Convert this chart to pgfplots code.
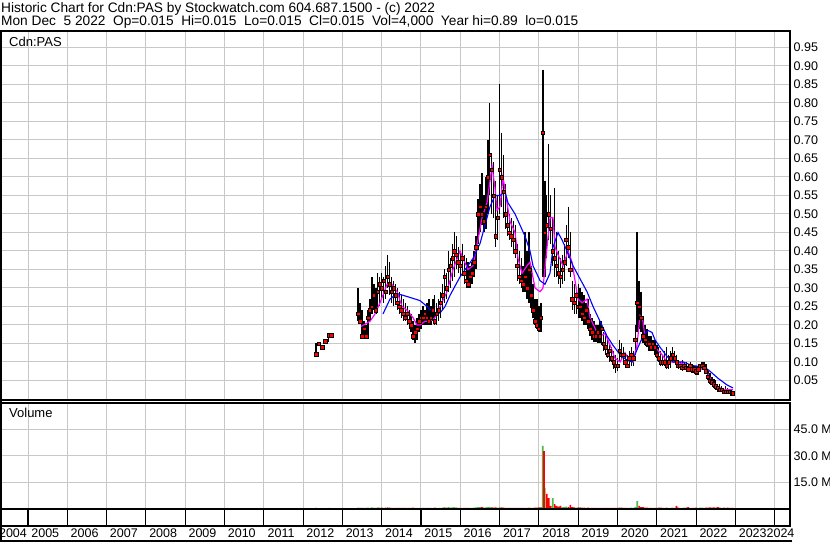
\documentclass[border=0pt]{standalone}
\usepackage{pgfplots}
\pgfplotsset{compat=1.18}
\usepackage{pgfplotstable}
\usepackage{fontspec}
\setmainfont{Liberation Sans}
\definecolor{gridc}{RGB}{200,200,200}
\definecolor{vgreen}{RGB}{76,185,76}
\definecolor{mag}{RGB}{255,0,255}
\definecolor{mablue}{RGB}{0,0,255}

\pgfplotstableread{
x hi lo cl vol up
2012.33 0.150 0.120 0.121 0.6 0
2012.40 0.150 0.150 0.150 0.5 1
2012.48 0.140 0.140 0.140 0.5 0
2012.56 0.156 0.156 0.156 0.5 1
2012.65 0.177 0.155 0.172 0.7 1
2012.72 0.172 0.172 0.172 0.5 0
2013.40 0.30 0.21 0.23 0.8 1
2013.45 0.26 0.21 0.21 0.6 0
2013.50 0.24 0.17 0.17 0.7 0
2013.55 0.21 0.17 0.19 0.6 1
2013.60 0.20 0.165 0.17 0.6 0
2013.65 0.24 0.17 0.22 0.8 1
2013.70 0.27 0.21 0.24 0.7 1
2013.75 0.33 0.23 0.25 0.9 1
2013.80 0.31 0.24 0.28 0.8 1
2013.85 0.30 0.23 0.24 0.7 0
2013.90 0.34 0.24 0.29 0.9 1
2013.95 0.33 0.25 0.31 0.8 1
2014.00 0.34 0.27 0.30 0.8 0
2014.05 0.33 0.26 0.32 0.7 1
2014.10 0.36 0.27 0.29 0.8 0
2014.15 0.39 0.30 0.33 1.0 1
2014.20 0.37 0.28 0.31 0.8 0
2014.25 0.33 0.26 0.29 0.7 0
2014.30 0.32 0.25 0.30 0.6 1
2014.35 0.31 0.26 0.28 0.6 0
2014.40 0.30 0.24 0.26 0.7 0
2014.45 0.29 0.23 0.25 0.6 0
2014.50 0.28 0.22 0.24 0.6 0
2014.55 0.27 0.21 0.23 0.7 0
2014.60 0.26 0.21 0.22 0.6 0
2014.65 0.25 0.20 0.23 0.6 1
2014.70 0.24 0.19 0.21 0.7 0
2014.75 0.23 0.18 0.20 0.7 0
2014.80 0.21 0.16 0.17 0.8 0
2014.85 0.20 0.15 0.18 0.7 1
2014.90 0.22 0.16 0.19 0.6 1
2014.95 0.23 0.18 0.21 0.7 1
2015.00 0.24 0.19 0.22 0.6 1
2015.05 0.25 0.20 0.22 0.6 0
2015.10 0.24 0.20 0.23 0.6 1
2015.15 0.26 0.20 0.22 0.7 0
2015.20 0.27 0.20 0.21 0.7 0
2015.25 0.25 0.20 0.22 0.6 1
2015.30 0.27 0.21 0.24 0.7 1
2015.35 0.28 0.20 0.21 0.8 0
2015.40 0.26 0.20 0.23 0.6 1
2015.45 0.27 0.21 0.24 0.6 1
2015.50 0.29 0.22 0.26 0.7 1
2015.55 0.31 0.24 0.28 0.8 1
2015.60 0.35 0.26 0.33 1.0 1
2015.65 0.34 0.27 0.30 0.8 0
2015.70 0.40 0.29 0.35 1.0 1
2015.75 0.38 0.30 0.36 0.8 1
2015.80 0.42 0.32 0.38 0.9 1
2015.85 0.45 0.33 0.40 1.0 1
2015.90 0.44 0.35 0.39 0.8 0
2015.95 0.41 0.34 0.37 0.7 0
2016.00 0.40 0.33 0.36 0.7 0
2016.05 0.42 0.34 0.38 0.7 1
2016.10 0.39 0.31 0.34 0.7 0
2016.15 0.38 0.30 0.32 0.6 0
2016.20 0.37 0.30 0.31 0.6 0
2016.25 0.36 0.30 0.33 0.6 1
2016.30 0.37 0.31 0.34 0.7 1
2016.35 0.40 0.33 0.37 0.8 1
2016.40 0.44 0.35 0.41 0.9 1
2016.45 0.54 0.42 0.50 1.1 1
2016.50 0.58 0.45 0.52 1.0 1
2016.55 0.61 0.47 0.50 1.0 0
2016.60 0.55 0.45 0.48 0.8 0
2016.65 0.60 0.46 0.52 0.9 1
2016.70 0.70 0.50 0.60 1.1 1
2016.75 0.80 0.55 0.66 1.2 1
2016.80 0.66 0.50 0.62 0.9 0
2016.85 0.64 0.49 0.55 0.8 0
2016.90 0.59 0.41 0.44 0.9 0
2016.95 0.55 0.43 0.49 0.8 1
2017.00 0.85 0.50 0.62 1.2 1
2017.05 0.72 0.52 0.60 0.9 0
2017.10 0.66 0.49 0.56 0.8 0
2017.15 0.58 0.46 0.50 0.7 0
2017.20 0.52 0.44 0.47 0.7 0
2017.25 0.50 0.43 0.45 0.6 0
2017.30 0.49 0.41 0.44 0.6 0
2017.35 0.48 0.40 0.43 0.6 0
2017.40 0.47 0.38 0.40 0.7 0
2017.45 0.42 0.32 0.36 0.7 0
2017.50 0.40 0.31 0.33 0.7 0
2017.55 0.38 0.30 0.32 0.6 0
2017.60 0.36 0.29 0.31 0.6 0
2017.65 0.45 0.29 0.33 0.7 1
2017.70 0.40 0.27 0.30 0.7 0
2017.75 0.45 0.26 0.35 0.8 1
2017.80 0.36 0.245 0.28 0.7 0
2017.85 0.31 0.22 0.24 0.7 0
2017.90 0.27 0.20 0.21 0.8 0
2017.95 0.27 0.19 0.20 0.8 0
2018.00 0.25 0.18 0.19 0.9 0
2018.05 0.26 0.18 0.22 1.0 1
2018.10 0.89 0.33 0.72 35.7 1
2018.15 0.59 0.33 0.45 11.9 1
2018.20 0.55 0.38 0.47 8.5 0
2018.25 0.69 0.43 0.50 6.2 0
2018.30 0.55 0.42 0.46 1.7 0
2018.35 0.49 0.36 0.40 6.2 1
2018.40 0.57 0.33 0.38 2.8 0
2018.45 0.45 0.33 0.36 1.7 0
2018.50 0.40 0.31 0.34 1.4 0
2018.55 0.38 0.30 0.33 1.7 0
2018.60 0.39 0.31 0.35 1.1 1
2018.65 0.42 0.32 0.37 1.2 1
2018.70 0.47 0.36 0.43 1.4 1
2018.75 0.52 0.38 0.41 1.1 0
2018.80 0.45 0.33 0.35 2.3 0
2018.85 0.32 0.24 0.27 1.0 0
2018.90 0.31 0.23 0.26 0.9 0
2018.95 0.30 0.23 0.28 0.8 1
2019.00 0.31 0.22 0.25 0.9 0
2019.05 0.30 0.22 0.25 1.1 1
2019.10 0.29 0.21 0.23 0.8 0
2019.15 0.28 0.20 0.22 0.8 0
2019.20 0.26 0.20 0.24 0.7 1
2019.25 0.27 0.19 0.21 0.8 0
2019.30 0.23 0.17 0.19 0.7 0
2019.35 0.22 0.16 0.18 0.7 0
2019.40 0.21 0.155 0.17 0.6 0
2019.45 0.20 0.155 0.17 0.6 0
2019.50 0.20 0.15 0.18 0.6 1
2019.55 0.21 0.15 0.17 0.7 0
2019.60 0.21 0.145 0.19 0.7 1
2019.65 0.18 0.13 0.15 0.6 0
2019.70 0.18 0.12 0.14 0.7 0
2019.75 0.16 0.11 0.12 0.7 0
2019.80 0.15 0.10 0.13 0.6 1
2019.85 0.14 0.10 0.11 0.6 0
2019.90 0.13 0.08 0.10 0.7 0
2019.95 0.12 0.07 0.09 0.7 0
2020.00 0.11 0.075 0.09 0.6 0
2020.05 0.16 0.10 0.13 0.9 1
2020.10 0.15 0.105 0.12 0.8 0
2020.15 0.14 0.10 0.12 0.7 0
2020.20 0.12 0.09 0.10 0.6 0
2020.25 0.12 0.085 0.09 0.6 0
2020.30 0.13 0.09 0.11 0.7 1
2020.35 0.14 0.09 0.12 0.8 1
2020.40 0.13 0.09 0.11 0.7 0
2020.45 0.20 0.12 0.16 1.1 1
2020.50 0.45 0.18 0.26 4.5 1
2020.55 0.32 0.19 0.25 1.7 0
2020.60 0.29 0.18 0.22 1.0 0
2020.65 0.22 0.15 0.17 1.1 0
2020.70 0.20 0.145 0.16 0.8 0
2020.75 0.19 0.14 0.15 0.8 0
2020.80 0.17 0.13 0.15 0.7 0
2020.85 0.17 0.13 0.14 0.7 0
2020.90 0.16 0.13 0.15 0.6 1
2020.95 0.16 0.12 0.14 0.7 0
2021.00 0.145 0.11 0.12 0.7 0
2021.05 0.14 0.10 0.11 0.8 0
2021.10 0.13 0.09 0.10 0.8 0
2021.15 0.12 0.09 0.10 0.7 0
2021.20 0.13 0.09 0.10 0.7 1
2021.25 0.14 0.08 0.09 0.8 0
2021.30 0.12 0.08 0.10 0.7 1
2021.35 0.13 0.085 0.11 0.7 1
2021.40 0.14 0.10 0.12 0.8 1
2021.45 0.13 0.10 0.11 0.7 0
2021.50 0.12 0.09 0.10 1.7 0
2021.55 0.105 0.08 0.09 0.8 0
2021.60 0.10 0.08 0.09 0.7 1
2021.65 0.105 0.075 0.085 0.7 0
2021.70 0.10 0.08 0.09 0.8 1
2021.75 0.10 0.075 0.085 0.8 0
2021.80 0.095 0.075 0.08 1.1 0
2021.85 0.10 0.075 0.09 0.7 1
2021.90 0.095 0.07 0.08 0.7 0
2021.95 0.09 0.07 0.08 0.7 0
2022.00 0.09 0.065 0.075 0.8 0
2022.05 0.09 0.065 0.08 0.7 1
2022.10 0.095 0.075 0.09 0.8 1
2022.15 0.10 0.08 0.09 0.8 1
2022.20 0.10 0.08 0.085 0.7 0
2022.25 0.095 0.07 0.075 0.8 0
2022.30 0.075 0.05 0.06 0.8 0
2022.35 0.07 0.04 0.05 0.9 0
2022.40 0.06 0.04 0.045 0.8 0
2022.45 0.055 0.03 0.04 0.9 0
2022.50 0.05 0.025 0.035 0.8 0
2022.55 0.04 0.02 0.03 1.1 0
2022.60 0.04 0.02 0.025 0.8 0
2022.65 0.035 0.02 0.025 0.7 1
2022.70 0.03 0.015 0.02 0.8 0
2022.75 0.035 0.015 0.02 0.7 0
2022.80 0.03 0.015 0.02 0.8 0
2022.85 0.025 0.015 0.02 0.7 0
2022.90 0.025 0.015 0.015 0.7 0
2022.93 0.015 0.015 0.015 0.6 0
}\pricedata

\begin{document}
\begin{tikzpicture}[x=1pt,y=1pt]
\useasboundingbox (0pt,0pt) rectangle (830pt,543pt);
\pgfplotsset{
  chartbase/.style={
    scale only axis, width=790pt,
    xmin=2004.2875, xmax=2024.389,
    axis line style={line width=1.3pt},
    major tick length=0pt,
    xtick={2005,...,2024}, xticklabels={},
    grid=major, major grid style={draw=gridc, line width=1pt},
    /pgf/number format/assume math mode=true,
    tick label style={font=\fontsize{12.5}{14}\selectfont},
    yticklabel pos=right,
    yticklabel style={anchor=west, inner sep=0pt, xshift=3.5pt},
    scaled y ticks=false,
  }
}

% header
\node[anchor=base west, inner sep=0pt, font=\fontsize{13.7}{15}\selectfont] at (1pt,530.7pt)
  {Historic Chart for Cdn:PAS by Stockwatch.com 604.687.1500 - (c) 2022};
\node[anchor=base west, inner sep=0pt, font=\fontsize{13.7}{15}\selectfont] at (1pt,517pt)
  {Mon Dec\ \ 5 2022\ \ Op=0.015\ \ Hi=0.015\ \ Lo=0.015\ \ Cl=0.015\ \ Vol=4,000\ \ Year hi=0.89\ \ lo=0.015};

% price panel
\begin{axis}[chartbase, at={(0pt,143pt)}, anchor=south west, height=369pt,
  ymin=-0.0027, ymax=0.9946,
  ytick={0.05,0.10,0.15,0.20,0.25,0.30,0.35,0.40,0.45,0.50,0.55,0.60,0.65,0.70,0.75,0.80,0.85,0.90,0.95},
  /pgf/number format/fixed, /pgf/number format/fixed zerofill, /pgf/number format/precision=2]
\addplot[draw=none, mark=none, forget plot,
  error bars/.cd, y dir=minus, y explicit, error mark=none,
  error bar style={draw=black, line width=1.4pt}]
  table[x=x, y=hi, y error minus expr=\thisrow{hi}-\thisrow{lo}] {\pricedata};
\addplot[only marks, mark=square*, mark size=1.75pt, mark options={draw=none, fill=red}]
  table[x=x, y=cl] {\pricedata};
\addplot[mag, line width=1.2pt] coordinates {
(2013.473,0.196)(2013.702,0.21)(2013.830,0.23)(2013.957,0.26)(2014.135,0.31)(2014.262,0.31)
(2014.389,0.29)(2014.517,0.25)(2014.644,0.24)(2014.796,0.22)(2014.898,0.20)(2014.975,0.20)
(2015.102,0.21)(2015.229,0.21)(2015.356,0.22)(2015.483,0.25)(2015.662,0.29)(2015.814,0.35)
(2015.992,0.40)(2016.069,0.38)(2016.196,0.35)(2016.323,0.36)(2016.450,0.43)(2016.552,0.49)
(2016.679,0.53)(2016.807,0.63)(2016.883,0.57)(2016.934,0.51)(2017.010,0.52)(2017.087,0.60)
(2017.188,0.53)(2017.265,0.48)(2017.392,0.45)(2017.468,0.38)(2017.570,0.34)(2017.697,0.36)
(2017.774,0.37)(2017.901,0.30)(2018.028,0.29)(2018.104,0.30)(2018.206,0.41)(2018.282,0.49)
(2018.359,0.49)(2018.410,0.41)(2018.486,0.39)(2018.613,0.36)(2018.740,0.40)(2018.842,0.37)
(2018.995,0.27)(2019.097,0.26)(2019.224,0.27)(2019.300,0.22)(2019.478,0.18)(2019.555,0.17)
(2019.682,0.177)(2019.809,0.146)(2019.936,0.11)(2020.064,0.10)(2020.191,0.125)(2020.267,0.11)
(2020.394,0.10)(2020.496,0.145)(2020.573,0.225)(2020.649,0.21)(2020.700,0.165)(2020.827,0.146)
(2020.954,0.14)(2021.132,0.12)(2021.260,0.10)(2021.412,0.10)(2021.539,0.098)(2021.667,0.095)
(2021.845,0.083)(2021.972,0.075)(2022.099,0.077)(2022.176,0.088)(2022.277,0.072)(2022.405,0.048)
(2022.532,0.035)(2022.684,0.025)(2022.939,0.025)};
\addplot[mablue, line width=1.1pt] coordinates {
(2014.033,0.23)(2014.211,0.27)(2014.389,0.285)(2014.644,0.277)(2014.975,0.266)(2015.153,0.25)
(2015.305,0.235)(2015.483,0.232)(2015.611,0.25)(2015.738,0.28)(2015.992,0.33)(2016.323,0.38)
(2016.501,0.42)(2016.578,0.45)(2016.756,0.52)(2016.883,0.55)(2017.010,0.55)(2017.137,0.56)
(2017.214,0.53)(2017.392,0.50)(2017.519,0.47)(2017.646,0.44)(2017.774,0.40)(2017.850,0.36)
(2018.028,0.32)(2018.155,0.31)(2018.282,0.34)(2018.359,0.41)(2018.486,0.45)(2018.588,0.43)
(2018.715,0.40)(2018.868,0.36)(2019.046,0.325)(2019.224,0.29)(2019.377,0.25)(2019.555,0.21)
(2019.733,0.17)(2019.885,0.145)(2020.064,0.12)(2020.242,0.105)(2020.369,0.10)(2020.445,0.12)
(2020.522,0.14)(2020.649,0.17)(2020.776,0.185)(2020.878,0.18)(2020.954,0.16)(2021.081,0.14)
(2021.260,0.115)(2021.412,0.10)(2021.667,0.10)(2021.921,0.09)(2022.099,0.088)(2022.227,0.085)
(2022.354,0.075)(2022.557,0.056)(2022.786,0.038)(2022.939,0.03)};
\end{axis}

% volume panel
\begin{axis}[chartbase, at={(0pt,34pt)}, anchor=south west, height=106pt,
  ymin=0, ymax=60, ytick={15,30,45}, yticklabels={15.0 M,30.0 M,45.0 M}]
\addplot[ybar, bar width=1.7pt, bar shift=0pt, fill=red, draw=none,
  restrict expr to domain={\thisrow{up}}{-0.5:0.5}]
  table[x=x, y=vol] {\pricedata};
\addplot[ybar, bar width=1.7pt, bar shift=0pt, fill=vgreen, draw=none,
  restrict expr to domain={\thisrow{up}}{0.5:1.5}]
  table[x=x, y=vol] {\pricedata};
\addplot[ybar, bar width=1.7pt, bar shift=0pt, fill=red, draw=none]
  coordinates {(2018.125,33.0)};
\end{axis}

% year band
\begin{axis}[scale only axis, width=790pt, height=17pt, at={(0pt,17pt)}, anchor=south west,
  xmin=2004.2875, xmax=2024.389, ymin=0, ymax=1, ytick=\empty,
  axis line style={line width=1.3pt}, major tick length=0pt,
  xtick={2004.618,2005.44,2006.44,2007.44,2008.44,2009.44,2010.44,2011.44,2012.44,2013.44,2014.44,2015.44,2016.44,2017.44,2018.44,2019.44,2020.44,2021.44,2022.44,2023.44,2024.148},
  xticklabels={2004,2005,2006,2007,2008,2009,2010,2011,2012,2013,2014,2015,2016,2017,2018,2019,2020,2021,2022,2023,2024},
  xticklabel style={anchor=north, inner sep=0pt, yshift=-2.5pt, font=\fontsize{12.5}{14}\selectfont},
  extra x ticks={2005,2006,2007,2008,2009,2010,2011,2012,2013,2014,2015,2016,2017,2018,2019,2020,2021,2022,2023,2024},
  extra x tick labels={},
  extra x tick style={grid=major, major grid style={black, line width=1.1pt}}]
\addplot[draw=none] coordinates {(2010,0.5)};
\end{axis}

\node[anchor=base west, inner sep=0pt, font=\fontsize{13}{15}\selectfont] at (9pt,496pt) {Cdn:PAS};
\node[anchor=base west, inner sep=0pt, font=\fontsize{13}{15}\selectfont] at (9pt,125pt) {Volume};
\draw[line width=2pt] (0pt,1.5pt) -- (792pt,1.5pt);
\draw[line width=2.2pt] (1.1pt,1pt) -- (1.1pt,512.6pt);
\end{tikzpicture}
\end{document}
